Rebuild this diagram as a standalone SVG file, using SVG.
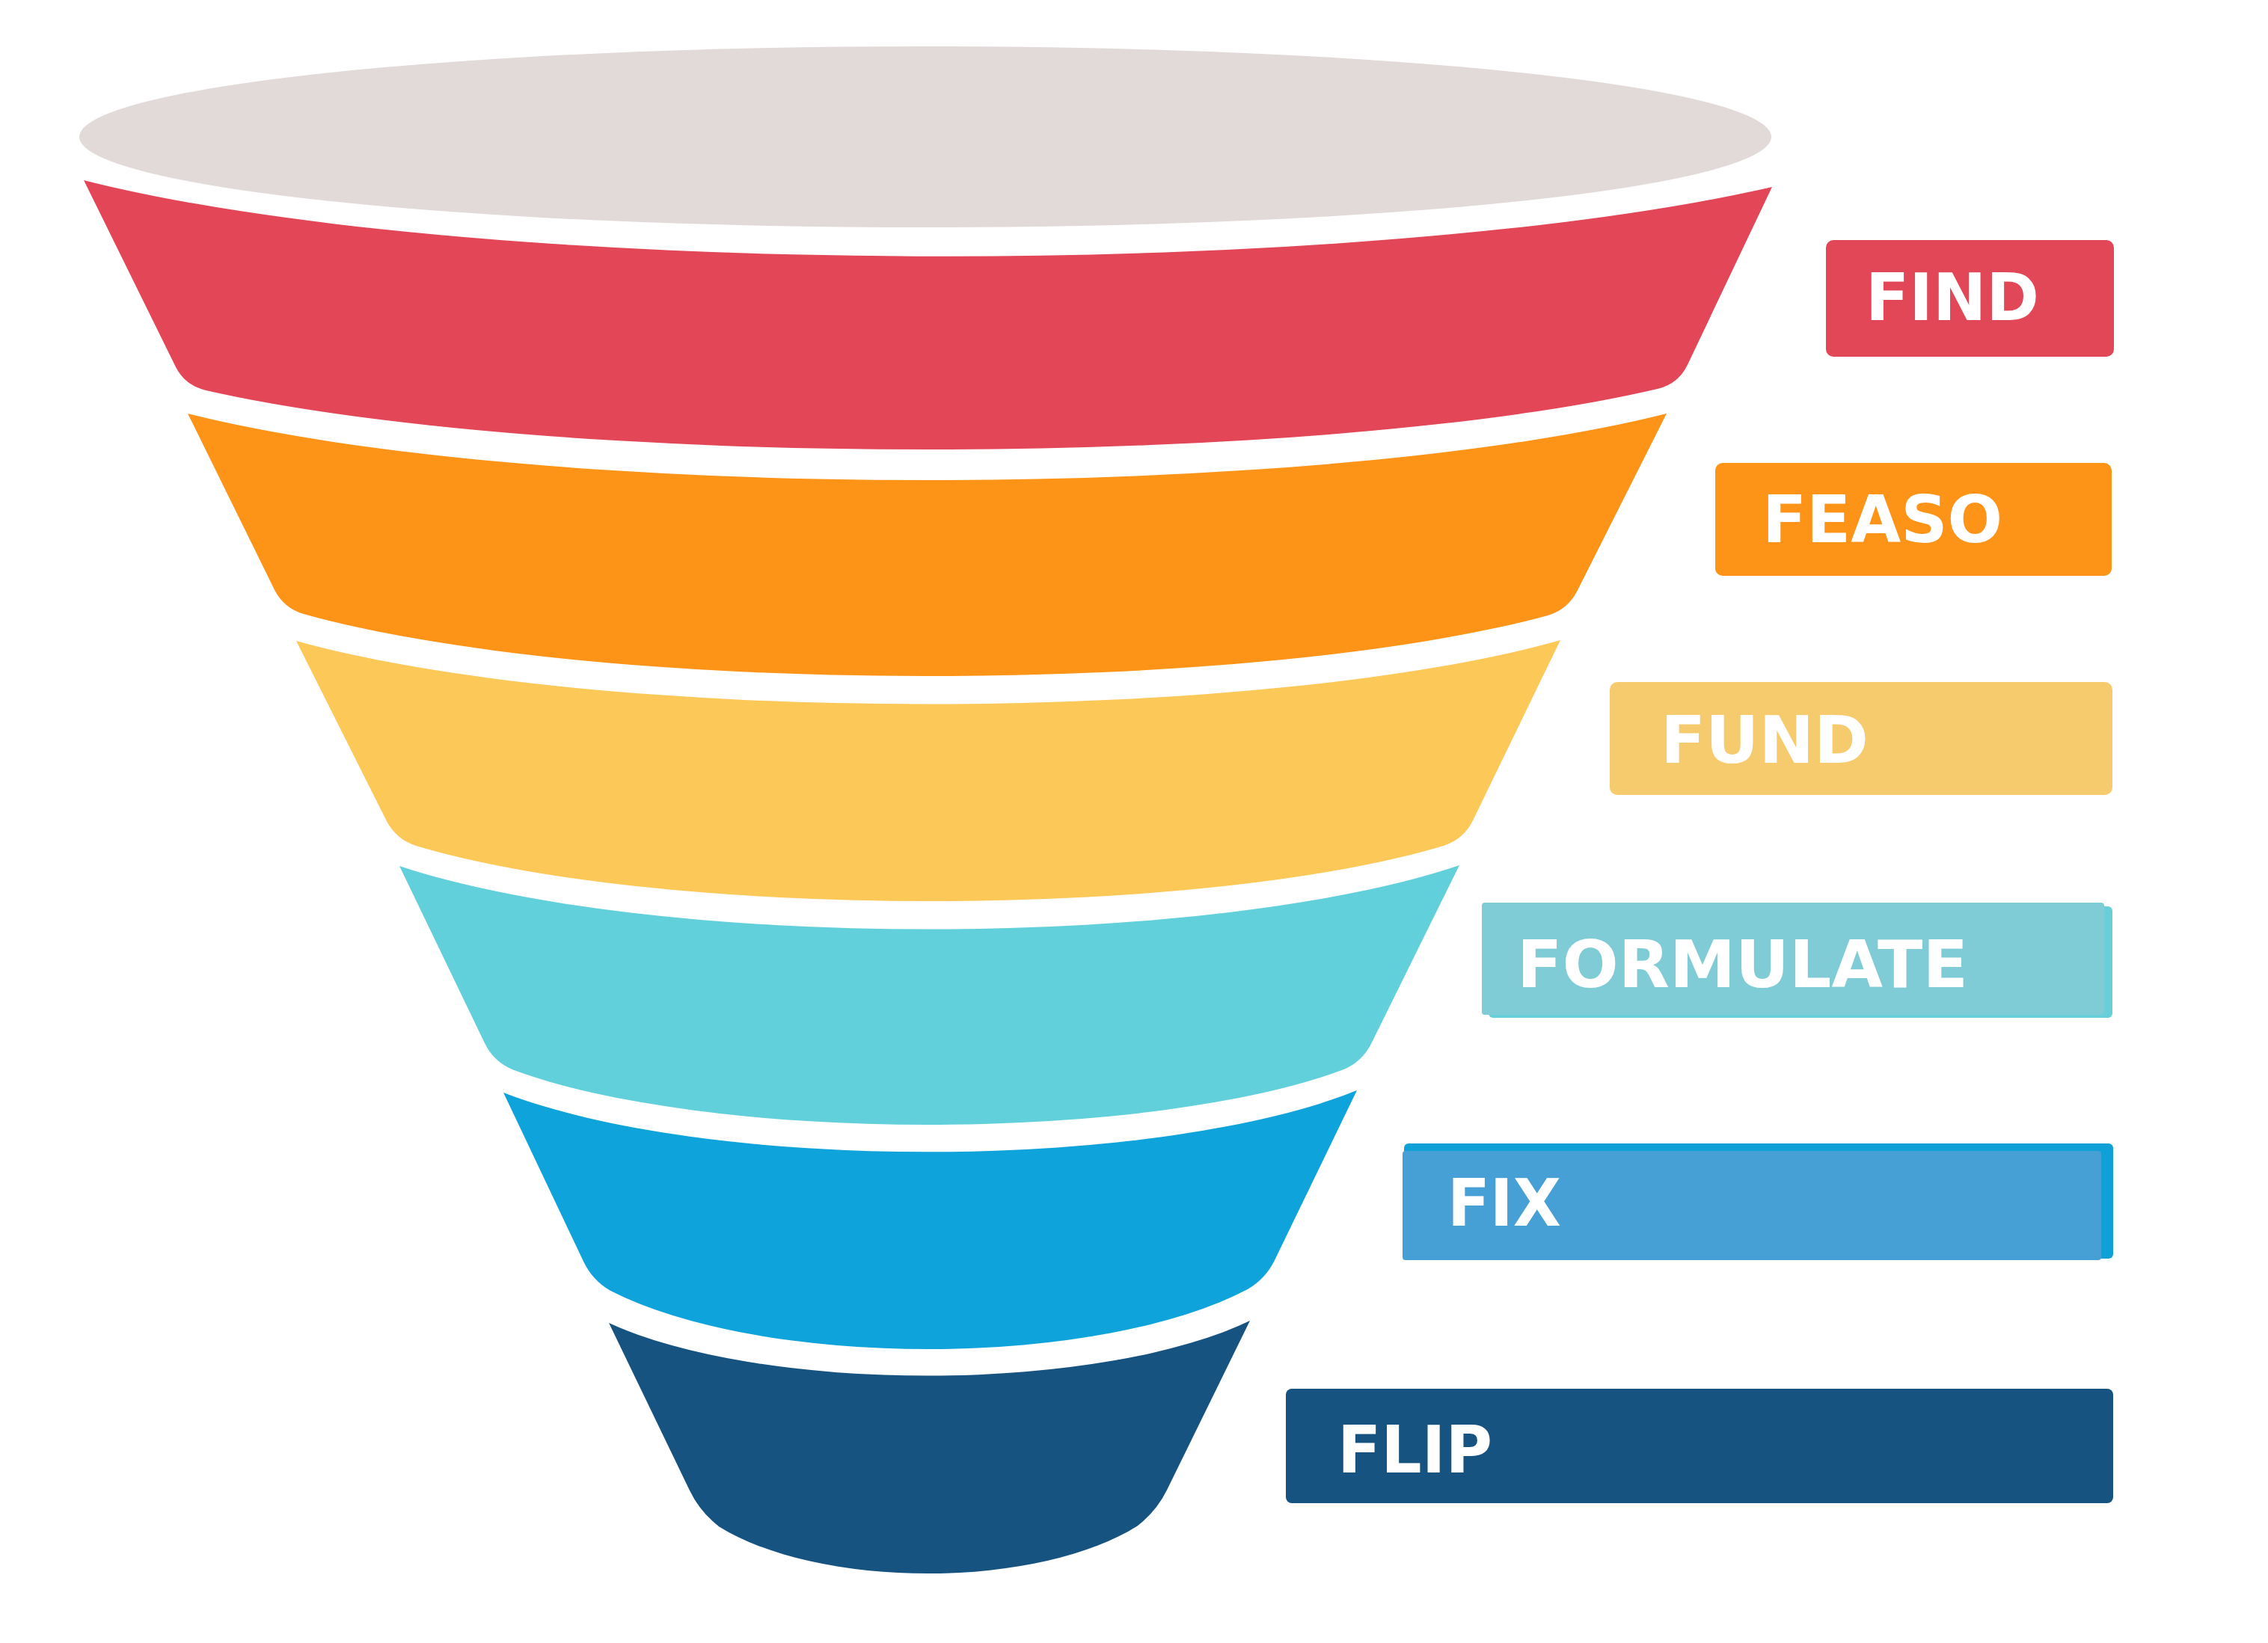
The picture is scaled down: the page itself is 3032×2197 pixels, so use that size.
<svg xmlns="http://www.w3.org/2000/svg" width="3032" height="2197" viewBox="0 0 3032 2197">
  <style>
    .lbl { font-family: "DejaVu Sans", "Open Sans", "Liberation Sans", sans-serif; font-weight: 700; font-size: 88px; fill: #FFFFFF; }
  </style>
  <rect x="0" y="0" width="3032" height="2197" fill="#FFFFFF"/>
  <g id="funnel">
    <ellipse id="funnel-top" cx="1237" cy="183" rx="1131" ry="121" fill="#E2DAD9"/>
    <path id="band-find" fill="#E24657" d="M112,241 A1354,217 0 0 0 2369,250 L2256,487.7 Q2244,513 2216.8,519.7 A1165.6,179.6 0 0 1 274.2,521.7 Q247,515 234.6,489.9 Z"/>
    <path id="band-feaso" fill="#FD9317" d="M251,553 A1186,199 0 0 0 2228,553 L2108.6,790 Q2096,815 2069.1,822.9 A997.9,183.7 0 0 1 405.9,820.9 Q379,813 366.6,787.9 Z"/>
    <path id="band-fund" fill="#FCC858" d="M396,857 A1014,190 0 0 0 2086,856 L1969.2,1096.8 Q1957,1122 1930.4,1130.7 A824.9,166.2 0 0 1 555.6,1130.7 Q529,1122 516.4,1097 Z"/>
    <path id="band-formulate" fill="#62D0DB" d="M534,1158 A850,190 0 0 0 1951,1157 L1833.4,1394.9 Q1821,1420 1795.1,1430.5 A665.5,164.4 0 0 1 685.9,1430.5 Q660,1420 647.9,1394.8 Z"/>
    <path id="band-fix" fill="#0FA3DB" d="M673,1461 A685,181 0 0 0 1814,1458 L1704.2,1684.8 Q1692,1710 1667.8,1724.1 A511,176.5 0 0 1 816.2,1726.1 Q792,1712 780,1686.7 Z"/>
    <path id="band-flip" fill="#175381" d="M814,1769 A514,161 0 0 0 1671,1766 L1560.1,1992.3 Q1546,2021 1520.5,2040.4 A335.4,141.2 0 0 1 961.5,2041.4 Q936,2022 922.1,1993.2 Z"/>
  </g>
  <g id="label-find">
    <rect x="2441" y="321" width="385" height="156" rx="10" fill="#E14757"/>
    <text class="lbl" x="2494" y="428" textLength="232" lengthAdjust="spacingAndGlyphs">FIND</text>
  </g>
  <g id="label-feaso">
    <rect x="2293" y="619" width="530" height="151" rx="10" fill="#FD9418"/>
    <text class="lbl" x="2356" y="725" textLength="321" lengthAdjust="spacingAndGlyphs">FEASO</text>
  </g>
  <g id="label-fund">
    <rect x="2152" y="912" width="672" height="151" rx="10" fill="#F5CB6E"/>
    <text class="lbl" x="2220" y="1020" textLength="278" lengthAdjust="spacingAndGlyphs">FUND</text>
  </g>
  <g id="label-formulate">
    <rect x="1990" y="1212" width="834" height="149" rx="6" fill="#66CFDA"/>
    <rect x="1981" y="1207" width="832" height="150" rx="4" fill="#80CCD6"/>
    <text class="lbl" x="2028" y="1320" textLength="603" lengthAdjust="spacingAndGlyphs">FORMULATE</text>
  </g>
  <g id="label-fix">
    <rect x="1877" y="1529" width="948" height="154" rx="6" fill="#0FA0D8"/>
    <rect x="1875" y="1539" width="934" height="146" rx="4" fill="#47A0D5"/>
    <text class="lbl" x="1935" y="1639" textLength="152" lengthAdjust="spacingAndGlyphs">FIX</text>
  </g>
  <g id="label-flip">
    <rect x="1719" y="1857" width="1106" height="153" rx="8" fill="#175381"/>
    <text class="lbl" x="1788" y="1969" textLength="207" lengthAdjust="spacingAndGlyphs">FLIP</text>
  </g>
  <g id="connectors"/>
</svg>
